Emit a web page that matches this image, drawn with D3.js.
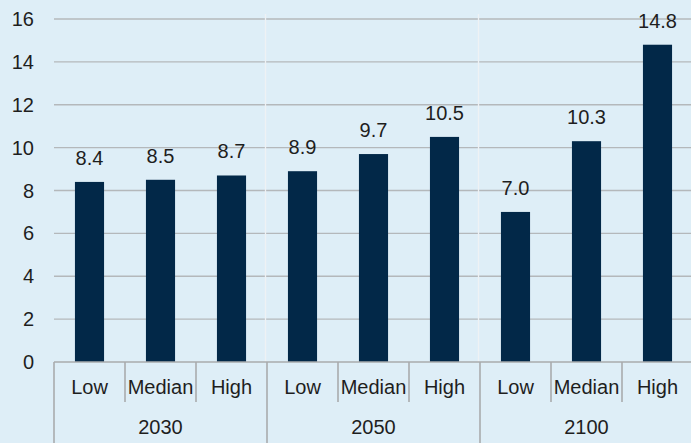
<!DOCTYPE html>
<html><head><meta charset="utf-8">
<script src="https://cdn.jsdelivr.net/npm/d3@7"></script>
<style>html,body{margin:0;padding:0;background:#deeef7;}svg{display:block;}</style>
</head><body>
<svg id="c" width="691" height="443"></svg>
<script>
const groups = ["2030", "2050", "2100"];
const scenarios = ["Low", "Median", "High"];
const values2030 = [8.4, 8.5, 8.7];
const values2050 = [8.9, 9.7, 10.5];
const values2100 = [7.0, 10.3, 14.8];
const yTicks = [0, 2, 4, 6, 8, 10, 12, 14, 16];

const seriesByGroup = [values2030, values2050, values2100];
const data = [];
groups.forEach((g, gi) => scenarios.forEach((s, si) => data.push({key: g + "-" + s, group: g, scen: s, value: seriesByGroup[gi][si]})));

const svg = d3.select("#c");
const W = 691, H = 443;
svg.append("rect").attr("width", W).attr("height", H).attr("fill", "#deeef7");

const x = d3.scaleBand().domain(data.map(d => d.key)).range([54, 693]).paddingInner(0.59).paddingOuter(0.295);
const step = x.step();
const left = 54;
const y = d3.scaleLinear().domain([0, 16]).range([362, 19]);
const font = "'Liberation Sans', Arial, Helvetica, sans-serif";
const fs = 20;
const txt = "#1e1e1e";

// gridlines
svg.append("g").selectAll("line").data(yTicks.filter(t => t > 0)).join("line")
  .attr("x1", left).attr("x2", W).attr("y1", d => y(d)).attr("y2", d => y(d))
  .attr("stroke", "#b4b8bb").attr("stroke-width", 1.3);

// light vertical group separators in plot
svg.append("g").selectAll("line").data([1, 2]).join("line")
  .attr("x1", d => left + d * 3 * step - 1.5).attr("x2", d => left + d * 3 * step - 1.5)
  .attr("y1", 14).attr("y2", 362)
  .attr("stroke", "#eef2f4").attr("stroke-width", 1.3);

// y labels
svg.append("g").selectAll("text").data(yTicks).join("text")
  .attr("x", 34).attr("y", d => y(d)).attr("dy", "0.35em")
  .attr("text-anchor", "end").attr("font-family", font).attr("font-size", fs).attr("fill", txt)
  .text(d => d);

// bars
svg.append("g").selectAll("rect").data(data).join("rect")
  .attr("x", d => x(d.key)).attr("width", x.bandwidth())
  .attr("y", d => y(d.value)).attr("height", d => y(0) - y(d.value))
  .attr("fill", "#022848");

// value labels
svg.append("g").selectAll("text").data(data).join("text")
  .attr("x", d => x(d.key) + x.bandwidth() / 2).attr("y", d => y(d.value) - 17)
  .attr("text-anchor", "middle").attr("font-family", font).attr("font-size", fs).attr("fill", txt)
  .text(d => d3.format(".1f")(d.value));

// axis line
svg.append("line").attr("x1", left).attr("x2", W).attr("y1", 362).attr("y2", 362)
  .attr("stroke", "#a9abad").attr("stroke-width", 1.6);

// inner ticks
const inner = [];
for (let gi = 0; gi < groups.length; gi++) for (let k = 1; k < scenarios.length; k++) inner.push(gi * 3 + k);
svg.append("g").selectAll("line").data(inner).join("line")
  .attr("x1", d => left + d * step).attr("x2", d => left + d * step)
  .attr("y1", 362).attr("y2", 402).attr("stroke", "#a9abad").attr("stroke-width", 1.6);
// group ticks
svg.append("g").selectAll("line").data([0, 1, 2, 3]).join("line")
  .attr("x1", d => left + d * 3 * step).attr("x2", d => left + d * 3 * step)
  .attr("y1", 362).attr("y2", H).attr("stroke", "#a9abad").attr("stroke-width", 1.6);

// category labels
svg.append("g").selectAll("text").data(data).join("text")
  .attr("x", d => x(d.key) + x.bandwidth() / 2).attr("y", 394)
  .attr("text-anchor", "middle").attr("font-family", font).attr("font-size", fs).attr("fill", txt)
  .text(d => d.scen);

// group labels
svg.append("g").selectAll("text").data(groups).join("text")
  .attr("x", (d, i) => left + (i * 3 + 1.5) * step).attr("y", 434)
  .attr("text-anchor", "middle").attr("font-family", font).attr("font-size", fs).attr("fill", txt)
  .text(d => d);
</script>
</body></html>
